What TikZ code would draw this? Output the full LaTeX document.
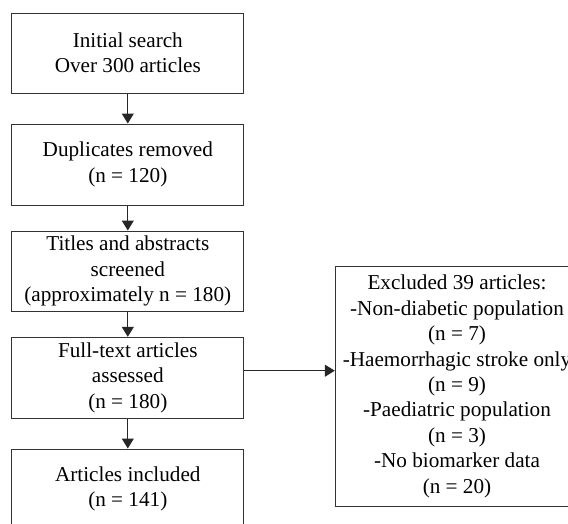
\documentclass[tikz,border=0pt]{standalone}
\usepackage{fontspec}
\setmainfont{Liberation Serif}
\usetikzlibrary{arrows.meta}
\begin{document}
\begin{tikzpicture}[x=1pt,y=-1pt,
  box/.style={draw=black!80,line width=1pt,minimum width=231.7pt,align=center,inner sep=0pt,
    font=\fontsize{21.2}{25.4}\selectfont},
  arr/.style={draw=black!85,line width=1pt,-{Triangle[length=10pt,width=12pt]}}]
\clip (0,0) rectangle (568,523);
\fill[white] (0,0) rectangle (568,523);
\node[box,minimum height=80pt] (b1) at (127.8,53) {Initial search\\Over 300 articles};
\node[box,minimum height=81pt] (b2) at (127.8,164.5) {Duplicates removed\\(n = 120)};
\node[box,minimum height=80pt] (b3) at (127.8,271) {Titles and abstracts\\screened\\(approximately n = 180)};
\node[box,minimum height=81pt] (b4) at (127.8,377.8) {Full-text articles\\assessed\\(n = 180)};
\node[box,minimum height=80pt] (b5) at (127.8,489) {Articles included\\(n = 141)};
\node[box,minimum width=243.4pt,minimum height=240.7pt] (ex) at (457,386.4)
  {Excluded 39 articles:\\-Non-diabetic population\\(n = 7)\\-Haemorrhagic stroke only\\(n = 9)\\-Paediatric population\\(n = 3)\\-No biomarker data\\(n = 20)};
\draw[arr] (b1) -- (b2);
\draw[arr] (b2) -- (b3);
\draw[arr] (b3) -- (b4);
\draw[arr] (b4) -- (b5);
\coordinate (h) at (0,370.7);
\draw[arr] (b4.east |- h) -- (ex.west |- h);
\end{tikzpicture}
\end{document}
